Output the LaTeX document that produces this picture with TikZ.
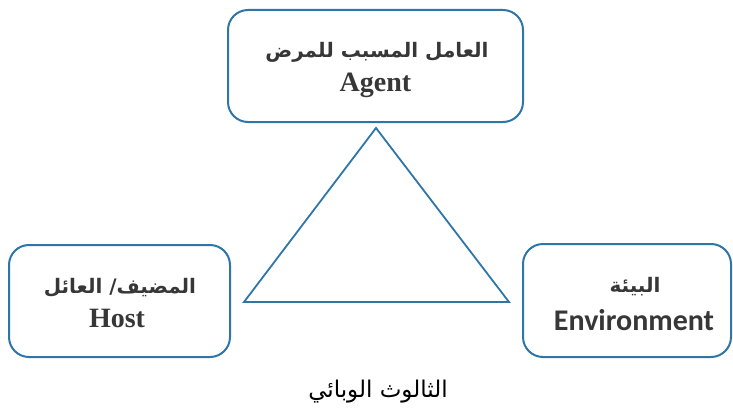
\documentclass[tikz,border=0pt]{standalone}
\usepackage{fontspec}
\setmainfont{Liberation Serif}
\newfontfamily\arabicfont[Script=Arabic]{DejaVu Sans}
\newfontfamily\envfont{Carlito}
\TeXXeTstate=1
\definecolor{boxblue}{RGB}{46,117,168}
\definecolor{textgray}{RGB}{55,55,55}
\tikzset{
  factor/.style={draw=boxblue, line width=2pt, rounded corners=20pt, inner sep=0pt},
  artext/.style={anchor=base, text=textgray, inner sep=0pt,
    font=\arabicfont\bfseries\fontsize{20}{24}\selectfont},
  entext/.style={anchor=base, text=textgray, inner sep=0pt,
    font=\bfseries\fontsize{28}{32}\selectfont},
}

\begin{document}
\begin{tikzpicture}[x=1pt, y=-1pt]
\useasboundingbox (0,0) rectangle (733,412);
% the three boxes
\node[factor, minimum width=295, minimum height=112] (agent) at (375.5,66) {};
\node[factor, minimum width=221, minimum height=112] (host) at (119.5,301) {};
\node[factor, minimum width=208, minimum height=113] (env) at (627,300.5) {};
% their labels
\node[artext] (agentar) at (377,58) {\beginR العامل المسبب للمرض\endR};
\node[entext] (agenten) at (375.5,92) {Agent};
\node[artext] (hostar) at (120,293) {\beginR المضيف/ العائل\endR};
\node[entext] (hosten) at (117,327) {Host};
\node[artext] (envar) at (635,292) {\beginR البيئة\endR};
\node[entext, font=\envfont\bfseries\fontsize{30}{34}\selectfont] (enven) at (634,330) {Environment};
% triangle
\draw[boxblue, line width=1.8pt] (376,128)--(509,302)--(244,302)--cycle;
\node[anchor=base, inner sep=0pt] (title) at (378,397)
  {\arabicfont\fontsize{23}{26}\selectfont\beginR الثالوث الوبائي\endR};
\end{tikzpicture}
\end{document}
